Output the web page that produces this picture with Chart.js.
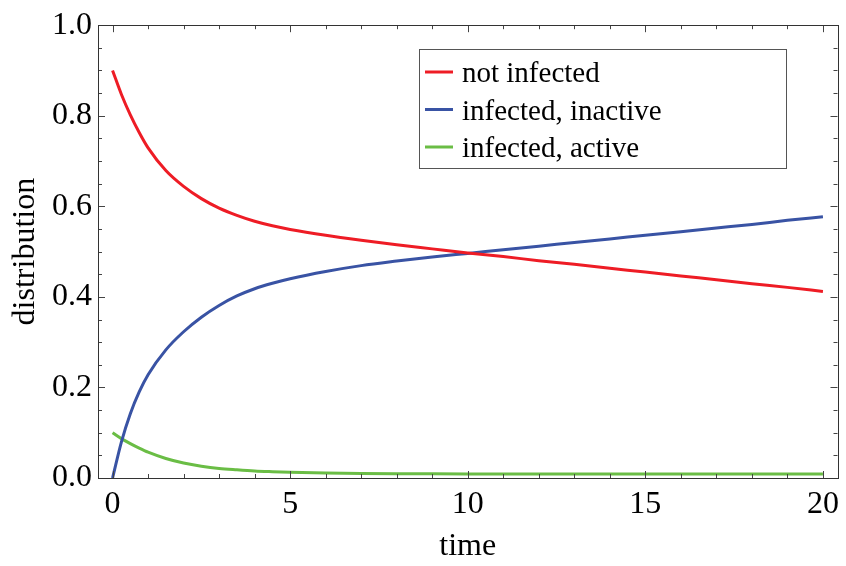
<!DOCTYPE html>
<html>
<head>
<meta charset="utf-8">
<script src="https://cdn.jsdelivr.net/npm/chart.js@4.4.1/dist/chart.umd.min.js"></script>
<style>
  html, body { margin: 0; padding: 0; background: #ffffff; }
  #wrap { width: 846px; height: 566px; position: relative; }
</style>
</head>
<body>
<div id="wrap"><canvas id="c" width="846" height="566"></canvas></div>
<script>
// ---- data ----
const times = [0, 0.25, 0.5, 0.75, 1, 1.5, 2, 2.5, 3, 3.5, 4, 4.5, 5, 6, 7, 8, 9, 10, 11, 12, 13, 14, 15, 16, 17, 18, 19, 20];
const notInfected = [0.900, 0.847, 0.802, 0.763, 0.729, 0.679, 0.644, 0.617, 0.596, 0.580, 0.567, 0.557, 0.549, 0.536, 0.525, 0.515, 0.506, 0.497, 0.489, 0.480, 0.472, 0.463, 0.455, 0.446, 0.438, 0.429, 0.421, 0.412];
const infectedInactive = [0.000, 0.080, 0.142, 0.190, 0.228, 0.283, 0.323, 0.355, 0.381, 0.402, 0.418, 0.430, 0.440, 0.456, 0.469, 0.479, 0.488, 0.496, 0.504, 0.512, 0.520, 0.528, 0.536, 0.544, 0.552, 0.560, 0.569, 0.577];
const infectedActive = [0.100, 0.087, 0.076, 0.066, 0.057, 0.043, 0.033, 0.026, 0.021, 0.018, 0.0155, 0.014, 0.0128, 0.0112, 0.0102, 0.0096, 0.0093, 0.0091, 0.009, 0.009, 0.009, 0.009, 0.009, 0.009, 0.009, 0.009, 0.009, 0.009];
const seriesLabels = ['not infected', 'infected, inactive', 'infected, active'];
const xTickValues = [0, 5, 10, 15, 20];
const yTickValues = [0.0, 0.2, 0.4, 0.6, 0.8, 1.0];
const xTitle = 'time';
const yTitle = 'distribution';

const COLORS = ['#ee1c25', '#3953a4', '#6abd45'];
const FONT = '"Liberation Serif", "Times New Roman", serif';

function pts(ys) { return times.map((t, i) => ({ x: t, y: ys[i] })); }

// frame with inward ticks on all four sides (Mathematica style)
const framePlugin = {
  id: 'frame',
  afterDraw(chart) {
    const { ctx, chartArea: a, scales: { x, y } } = chart;
    ctx.save();
    ctx.strokeStyle = '#444';
    ctx.lineWidth = 1;
    ctx.beginPath();
    for (let v = 0; v <= 20; v += 1) {
      const px = Math.round(x.getPixelForValue(v)) + 0.5;
      const len = (v % 5 === 0) ? 7 : 4;
      ctx.moveTo(px, a.bottom); ctx.lineTo(px, a.bottom - len);
      ctx.moveTo(px, a.top); ctx.lineTo(px, a.top + len);
    }
    for (let k = 0; k <= 20; k += 1) {
      const v = k * 0.05;
      const py = Math.round(y.getPixelForValue(v)) + 0.5;
      const len = (k % 4 === 0) ? 7 : 4;
      ctx.moveTo(a.left, py); ctx.lineTo(a.left + len, py);
      ctx.moveTo(a.right, py); ctx.lineTo(a.right - len, py);
    }
    ctx.stroke();
    ctx.strokeStyle = '#333';
    ctx.strokeRect(Math.round(a.left) + 0.5, Math.round(a.top) + 0.5,
                   Math.round(a.right - a.left), Math.round(a.bottom - a.top));
    ctx.restore();
  }
};

// legend box drawn inside the plot
const legendBoxPlugin = {
  id: 'legendBox',
  afterDraw(chart) {
    const { ctx } = chart;
    const bx = 419.5, by = 49.5, bw = 367, bh = 119;
    ctx.save();
    ctx.fillStyle = '#ffffff';
    ctx.fillRect(bx, by, bw, bh);
    ctx.strokeStyle = '#555';
    ctx.lineWidth = 1;
    ctx.strokeRect(bx, by, bw, bh);
    ctx.font = '29px ' + FONT;
    ctx.textBaseline = 'alphabetic';
    ctx.textAlign = 'left';
    chart.data.datasets.forEach((ds, i) => {
      const cy = 72 + i * 37.5;
      ctx.strokeStyle = ds.borderColor;
      ctx.lineWidth = 3;
      ctx.beginPath();
      ctx.moveTo(425, cy); ctx.lineTo(453, cy);
      ctx.stroke();
      ctx.fillStyle = '#000';
      ctx.fillText(ds.label, 462, cy + 10);
    });
    ctx.restore();
  }
};

new Chart(document.getElementById('c'), {
  type: 'line',
  data: {
    datasets: [
      { label: seriesLabels[0], data: pts(notInfected), borderColor: COLORS[0] },
      { label: seriesLabels[1], data: pts(infectedInactive), borderColor: COLORS[1] },
      { label: seriesLabels[2], data: pts(infectedActive), borderColor: COLORS[2] }
    ].map(d => Object.assign(d, {
      borderWidth: 3, pointRadius: 0, fill: false,
      cubicInterpolationMode: 'monotone', backgroundColor: d.borderColor
    }))
  },
  options: {
    responsive: false,
    animation: false,
    devicePixelRatio: 1,
    layout: { padding: { top: 17, right: 3, left: 0, bottom: 0 } },
    plugins: { legend: { display: false }, tooltip: { enabled: false } },
    scales: {
      x: {
        type: 'linear', min: -0.41, max: 20.41,
        afterBuildTicks(s) { s.ticks = xTickValues.map(v => ({ value: v })); },
        afterFit(s) { s.height = 88; },
        grid: { display: false, drawTicks: false },
        border: { display: false },
        ticks: { color: '#000', padding: 7, font: { family: FONT, size: 32 }, maxRotation: 0,
                 callback: v => String(v) },
        title: { display: true, text: xTitle, color: '#000', padding: { top: 0, bottom: 0 },
                 font: { family: FONT, size: 32 } }
      },
      y: {
        type: 'linear', min: 0, max: 1,
        afterBuildTicks(s) { s.ticks = yTickValues.map(v => ({ value: v })); },
        afterFit(s) { s.width = 98; },
        grid: { display: false, drawTicks: false },
        border: { display: false },
        ticks: { color: '#000', padding: 6, font: { family: FONT, size: 32 },
                 callback: v => Number(v).toFixed(1) },
        title: { display: true, text: yTitle, color: '#000', padding: { top: 6, bottom: 0 },
                 font: { family: FONT, size: 32 } }
      }
    }
  },
  plugins: [framePlugin, legendBoxPlugin]
});
</script>
</body>
</html>
